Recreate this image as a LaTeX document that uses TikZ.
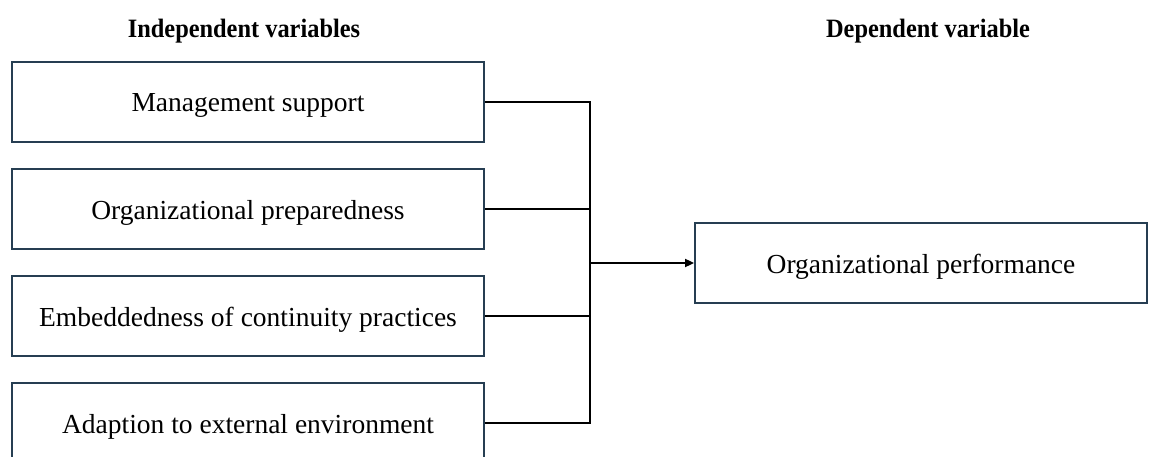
\documentclass[tikz,border=0pt]{standalone}
\usepackage{fontspec}
\setmainfont{Liberation Serif}
\usetikzlibrary{arrows.meta}
\definecolor{boxline}{RGB}{38,62,82}
\tikzset{
  varbox/.style={draw=boxline, line width=1.8pt, minimum width=472pt, minimum height=80pt, inner sep=0pt,
    text height=22pt, text depth=2pt, font=\fontsize{27.5}{32}\selectfont},
  outbox/.style={varbox, minimum width=452pt},
  heading/.style={font=\fontsize{26.5}{30}\selectfont\bfseries, xscale=0.92, transform shape},
  conn/.style={draw=black, line width=1.8pt},
}
\begin{document}
\begin{tikzpicture}[x=1pt,y=-1pt]
\clip (0,0) rectangle (1161,457);
\useasboundingbox (0,0) rectangle (1161,457);
\node[heading] (h1) at (244,31) {Independent variables};
\node[heading] (h2) at (928,31) {Dependent variable};
\node[varbox] (m1) at (248,102) {Management support};
\node[varbox] (m2) at (248,209) {Organizational preparedness};
\node[varbox] (m3) at (248,316) {Embeddedness of continuity practices};
\node[varbox] (m4) at (248,423) {Adaption to external environment};
\node[outbox] (out) at (921,263) {Organizational performance};
\coordinate (jt) at (590,102);
\coordinate (jb) at (590,423);
\draw[conn] (m1.east) -- (jt) -- (jb) -- (m4.east);
\draw[conn] (m2.east) -- (m2.east -| jt);
\draw[conn] (m3.east) -- (m3.east -| jt);
\draw[conn, -{Triangle[length=9pt,width=8pt]}] (out.west -| jt) -- (out.west);
\end{tikzpicture}
\end{document}
